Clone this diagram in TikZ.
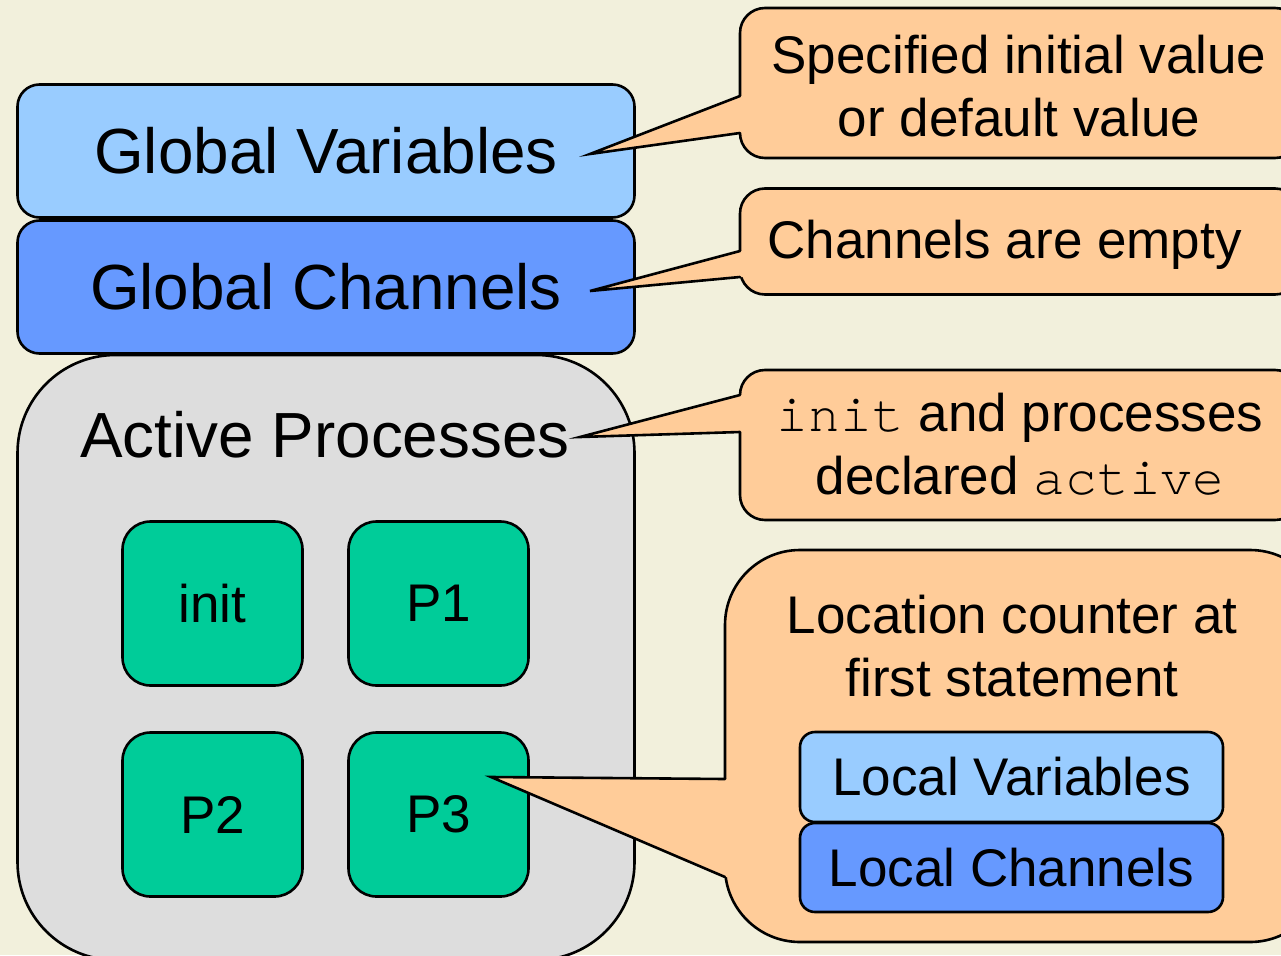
\documentclass[tikz,border=0pt]{standalone}
\usepackage{fontspec}
\setmainfont{Liberation Sans}
\setmonofont{TeX Gyre Cursor}
\definecolor{bgc}{HTML}{F2F0DC}
\definecolor{lblue}{HTML}{99CCFF}
\definecolor{dblue}{HTML}{6699FF}
\definecolor{procc}{HTML}{00CC99}
\definecolor{grayc}{HTML}{DDDDDD}
\definecolor{calc}{HTML}{FFCC99}
\begin{document}
\begin{tikzpicture}[x=1pt,y=-1pt,
  box/.style={draw=black, line width=2.6pt, rounded corners=#1, inner sep=0pt, align=center},
  bigtext/.style={font=\fontsize{63.8}{75}\selectfont},
  smalltext/.style={font=\fontsize{53}{63}\selectfont, align=center},
  callout/.style={box=#1, fill=calc},
  ptrfill/.style={fill=calc, draw=none},
  ptrline/.style={draw=black, line width=2.6pt, line cap=round, line join=miter}
]
\useasboundingbox (0,0) rectangle (1281,955);
\clip (0,0) rectangle (1281,955);
\fill[bgc] (0,0) rectangle (1281,955);

% global boxes
\node[box=22pt, fill=lblue, bigtext, minimum width=617pt, minimum height=133pt] (gv) at (326,151) {Global Variables};
\node[box=22pt, fill=dblue, bigtext, minimum width=617pt, minimum height=133pt] (gc) at (326,287) {Global Channels};

% active processes
\node[box=98pt, fill=grayc, minimum width=617pt, minimum height=605pt] (ap) at (326,657.5) {};
\node[bigtext, inner sep=0pt] (aptext) at (325,435) {Active Processes};

\node[box=28pt, fill=procc, smalltext, minimum width=180pt, minimum height=164pt] (init) at (212.5,603.5) {init};
\node[box=28pt, fill=procc, smalltext, minimum width=180pt, minimum height=164pt] (p1) at (438.5,603.5) {P1};
\node[box=28pt, fill=procc, smalltext, minimum width=180pt, minimum height=164pt] (p2) at (212.5,814.5) {P2};
\node[box=28pt, fill=procc, smalltext, minimum width=180pt, minimum height=164pt] (p3) at (438.5,814.5) {P3};

% callout 1
\node[callout=25pt, minimum width=560pt, minimum height=150pt] (c1) at (1020,83) {};
\coordinate (t1) at (590,154);
\coordinate (c1a) at (740,96);
\coordinate (c1b) at (740,133);
\fill[ptrfill] (t1) -- (c1a) -- ([xshift=14pt]c1a) -- ([xshift=14pt]c1b) -- (c1b) -- cycle;
\draw[ptrline] (c1a) -- (t1) -- (c1b);
\node[smalltext, inner sep=0pt] (c1text) at (1019,86) {Specified initial value\\or default value};

% callout 2
\node[callout=25pt, minimum width=560pt, minimum height=106pt] (c2) at (1020,241.5) {};
\coordinate (t2) at (590,291);
\coordinate (c2a) at (740,251);
\coordinate (c2b) at (740,277);
\fill[ptrfill] (t2) -- (c2a) -- ([xshift=14pt]c2a) -- ([xshift=14pt]c2b) -- (c2b) -- cycle;
\draw[ptrline] (c2a) -- (t2) -- (c2b);
\node[smalltext, inner sep=0pt] (c2text) at (1004.5,245) {Channels are empty};

% callout 3
\node[callout=25pt, minimum width=560pt, minimum height=150pt] (c3) at (1020,445) {};
\coordinate (t3) at (580,437);
\coordinate (c3a) at (740,395);
\coordinate (c3b) at (740,432);
\fill[ptrfill] (t3) -- (c3a) -- ([xshift=14pt]c3a) -- ([xshift=14pt]c3b) -- (c3b) -- cycle;
\draw[ptrline] (c3a) -- (t3) -- (c3b);
\node[smalltext, inner sep=0pt] (c3text) at (1020,444.5) {\texttt{init} and processes\\declared \texttt{active}};

% callout 4
\node[callout=75pt, minimum width=600pt, minimum height=392pt] (c4) at (1025,746) {};
\coordinate (t4) at (491,777);
\coordinate (c4a) at (725,779);
\coordinate (c4b) at (725,877);
\fill[ptrfill] (t4) -- (c4a) -- ([xshift=14pt]c4a) -- ([xshift=14pt]c4b) -- (c4b) -- cycle;
\draw[ptrline] (c4a) -- (t4) -- (c4b);
\node[smalltext, inner sep=0pt] (c4text) at (1012,646) {Location counter at\\first statement};

\node[box=15pt, fill=lblue, smalltext, minimum width=423pt, minimum height=90pt] (lv) at (1011.5,777) {Local Variables};
\node[box=15pt, fill=dblue, smalltext, minimum width=423pt, minimum height=89pt] (lc) at (1011.5,867.5) {Local Channels};
\end{tikzpicture}
\end{document}
